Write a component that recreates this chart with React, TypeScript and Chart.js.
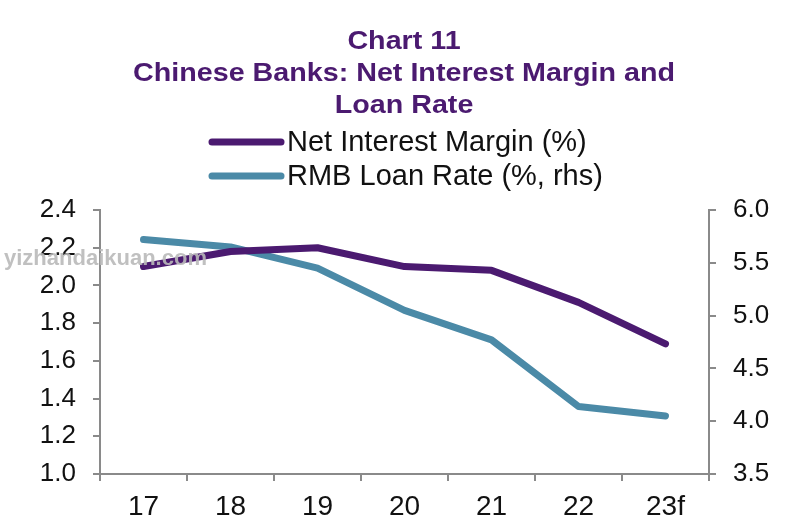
import React, { useEffect, useRef } from "react";
import { Chart, registerables } from "chart.js";

Chart.register(...registerables);

const categories = ["17", "18", "19", "20", "21", "22", "23f"];
const nimValues = [2.1, 2.18, 2.2, 2.1, 2.08, 1.91, 1.69];
const loanRateValues = [5.72, 5.65, 5.45, 5.05, 4.77, 4.14, 4.05];
const titleLines = ["Chart 11", "Chinese Banks: Net Interest Margin and", "Loan Rate"];
const legendLabels = ["Net Interest Margin (%)", "RMB Loan Rate (%, rhs)"];
const watermark = "yizhandaikuan.com";

const PURPLE = "#4b1a70";
const TEAL = "#4b8aa7";
const AXIS = "#8a8a8a";
const FONT = "'Liberation Sans', Arial, sans-serif";

const headerPlugin = {
  id: "header",
  afterDraw(chart: any) {
    const ctx = chart.ctx;
    ctx.save();
    ctx.fillStyle = PURPLE;
    ctx.font = `bold 26px ${FONT}`;
    ctx.textAlign = "center";
    ctx.textBaseline = "middle";
    const w = ctx.measureText(titleLines[1]).width;
    const sx = 542 / w;
    const ys = [42, 74, 106];
    titleLines.forEach((t, i) => {
      ctx.save();
      ctx.translate(404, ys[i]);
      ctx.scale(sx, 1);
      ctx.fillText(t, 0, 0);
      ctx.restore();
    });

    const colors = [PURPLE, TEAL];
    const ly = [142, 176];
    legendLabels.forEach((t, i) => {
      ctx.strokeStyle = colors[i];
      ctx.lineWidth = 7;
      ctx.lineCap = "round";
      ctx.beginPath();
      ctx.moveTo(212, ly[i]);
      ctx.lineTo(281, ly[i]);
      ctx.stroke();
      ctx.fillStyle = "#111";
      ctx.font = `29px ${FONT}`;
      ctx.textAlign = "left";
      ctx.fillText(t, 287, ly[i] + 1);
    });

    ctx.font = `bold 22px ${FONT}`;
    ctx.fillStyle = "rgba(185,185,185,0.9)";
    ctx.textAlign = "left";
    ctx.fillText(watermark, 4, 259);
    ctx.restore();
  },
};

export default function App() {
  const ref = useRef<HTMLCanvasElement>(null);
  useEffect(() => {
    if (!ref.current) return;
    const chart = new Chart(ref.current, {
      type: "line",
      data: {
        labels: categories,
        datasets: [
          {
            label: legendLabels[0],
            data: nimValues,
            borderColor: PURPLE,
            backgroundColor: PURPLE,
            borderWidth: 7,
            borderCapStyle: "round",
            borderJoinStyle: "round",
            pointRadius: 0,
            yAxisID: "y",
            tension: 0,
          },
          {
            label: legendLabels[1],
            data: loanRateValues,
            borderColor: TEAL,
            backgroundColor: TEAL,
            borderWidth: 7,
            borderCapStyle: "round",
            borderJoinStyle: "round",
            pointRadius: 0,
            yAxisID: "y1",
            tension: 0,
          },
        ],
      },
      options: {
        animation: false,
        responsive: false,
        layout: { padding: { top: 210, left: 0, right: 0, bottom: 0 } },
        plugins: {
          legend: { display: false },
          title: { display: false },
          tooltip: { enabled: false },
        },
        scales: {
          x: {
            offset: true,
            grid: {
              offset: true,
              drawOnChartArea: false,
              tickLength: 7,
              color: AXIS,
              lineWidth: 2,
            },
            border: { color: AXIS, width: 2 },
            ticks: { color: "#111", font: { family: FONT, size: 28 }, padding: 9 },
            afterFit(scale: any) {
              scale.height = 55;
            },
          },
          y: {
            position: "left",
            min: 1.0,
            max: 2.4,
            ticks: {
              stepSize: 0.2,
              color: "#111",
              font: { family: FONT, size: 26 },
              padding: 17,
              callback: (v: any) => Number(v).toFixed(1),
            },
            grid: { drawOnChartArea: false, tickLength: 7, color: AXIS, lineWidth: 2 },
            border: { color: AXIS, width: 2 },
            afterFit(scale: any) {
              scale.width = 100;
            },
          },
          y1: {
            position: "right",
            min: 3.5,
            max: 6.0,
            ticks: {
              stepSize: 0.5,
              color: "#111",
              font: { family: FONT, size: 26 },
              padding: 17,
              callback: (v: any) => Number(v).toFixed(1),
            },
            grid: { drawOnChartArea: false, tickLength: 7, color: AXIS, lineWidth: 2 },
            border: { color: AXIS, width: 2 },
            afterFit(scale: any) {
              scale.width = 91;
            },
          },
        },
      },
      plugins: [headerPlugin],
    });
    return () => chart.destroy();
  }, []);
  return (
    <div style={{ position: "fixed", left: 0, top: 0, width: 800, height: 529, background: "#fff" }}>
      <canvas ref={ref} width={800} height={529} />
    </div>
  );
}
